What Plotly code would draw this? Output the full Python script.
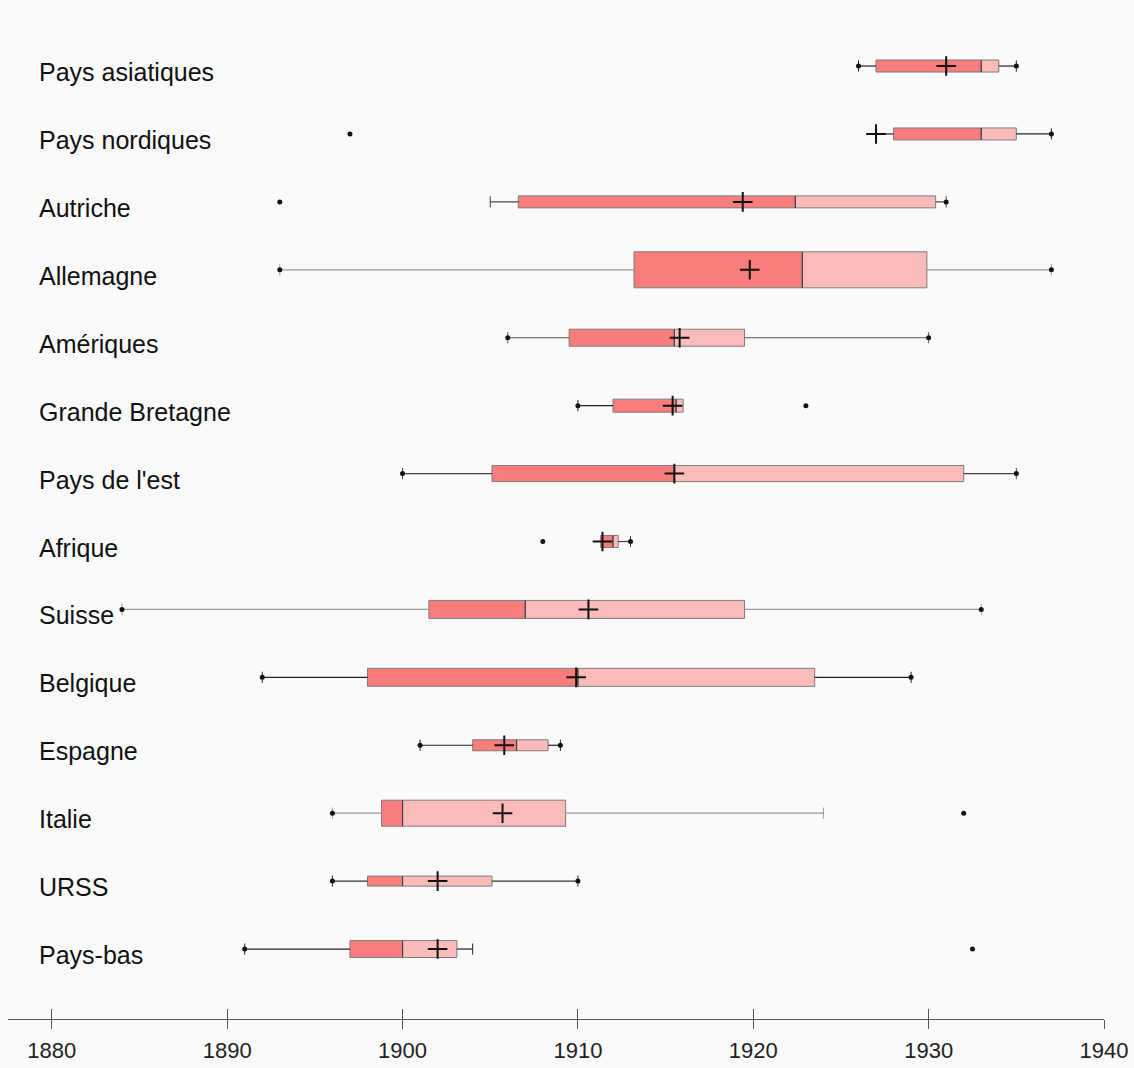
import plotly.graph_objects as go

# ---------------- data ----------------
categories = ["Pays asiatiques", "Pays nordiques", "Autriche", "Allemagne", "Amériques",
              "Grande Bretagne", "Pays de l'est", "Afrique", "Suisse", "Belgique",
              "Espagne", "Italie", "URSS", "Pays-bas"]
q1 = [1927.0, 1928.0, 1906.6, 1913.2, 1909.5, 1912.0, 1905.1, 1911.3, 1901.5, 1898.0, 1904.0, 1898.8, 1898.0, 1897.0]
median = [1933.0, 1933.0, 1922.4, 1922.8, 1915.5, 1915.6, 1915.5, 1912.0, 1907.0, 1910.0, 1906.5, 1900.0, 1900.0, 1900.0]
q3 = [1934.0, 1935.0, 1930.4, 1929.9, 1919.5, 1916.0, 1932.0, 1912.3, 1919.5, 1923.5, 1908.3, 1909.3, 1905.1, 1903.1]
mean = [1931.0, 1927.0, 1919.4, 1919.8, 1915.8, 1915.4, 1915.5, 1911.4, 1910.6, 1909.9, 1905.8, 1905.7, 1902.0, 1902.0]
whisker_low = [1926, 1927, 1905, 1893, 1906, 1910, 1900, 1911.3, 1884, 1892, 1901, 1896, 1896, 1891]
whisker_high = [1935, 1937, 1931, 1937, 1930, 1916.0, 1935, 1913, 1933, 1929, 1909, 1924, 1910, 1904]
outlier_cat = ["Pays nordiques", "Autriche", "Grande Bretagne", "Afrique", "Italie", "Pays-bas"]
outlier_val = [1897, 1893, 1923, 1908, 1932, 1932.5]
tick_years = [1880, 1890, 1900, 1910, 1920, 1930, 1940]

# ---------------- styles ----------------
box_px = [12, 12, 12, 36, 17, 13, 16, 12, 18, 18, 11, 26, 10, 17]
low_dot = [True, False, False, True, True, True, True, False, True, True, True, True, True, True]
high_dot = [True, True, True, True, True, False, True, True, True, True, True, False, True, False]
whisker_color = ["#222", "#222", "#444", "#999", "#555", "#222", "#444", "#444",
                 "#999", "#222", "#222", "#999", "#333", "#222"]
DARK = "#F97D7D"
LIGHT = "#FCBBBB"
BORDER = "#7d7d7d"
PX_PER_ROW = 67.9
LABEL_FONT = "Liberation Sans, Arial, sans-serif"
TICK_FONT = "Liberation Sans, Arial, sans-serif"

pos = list(range(len(categories)))
idx = {c: i for i, c in enumerate(categories)}

fig = go.Figure()

# whiskers
for i in pos:
    col = whisker_color[i]
    if whisker_low[i] < q1[i]:
        fig.add_trace(go.Scatter(x=[whisker_low[i], q1[i]], y=[i, i], mode="lines",
                                 line=dict(color=col, width=1.2), hoverinfo="skip", showlegend=False))
        fig.add_trace(go.Scatter(x=[whisker_low[i]], y=[i], mode="markers",
                                 marker=dict(symbol="line-ns", size=8, line=dict(color=col, width=1)),
                                 hoverinfo="skip", showlegend=False))
    if whisker_high[i] > q3[i]:
        fig.add_trace(go.Scatter(x=[q3[i], whisker_high[i]], y=[i, i], mode="lines",
                                 line=dict(color=col, width=1.2), hoverinfo="skip", showlegend=False))
        fig.add_trace(go.Scatter(x=[whisker_high[i]], y=[i], mode="markers",
                                 marker=dict(symbol="line-ns", size=8, line=dict(color=col, width=1)),
                                 hoverinfo="skip", showlegend=False))

# boxes: Q1 -> median (dark), median -> Q3 (light)
widths = [h / PX_PER_ROW for h in box_px]
fig.add_trace(go.Bar(y=pos, x=[m - a for m, a in zip(median, q1)], base=q1, orientation="h",
                     width=widths, marker=dict(color=DARK, line=dict(color=BORDER, width=1)),
                     hoverinfo="skip", showlegend=False))
fig.add_trace(go.Bar(y=pos, x=[b - m for b, m in zip(q3, median)], base=median, orientation="h",
                     width=widths, marker=dict(color=LIGHT, line=dict(color=BORDER, width=1)),
                     hoverinfo="skip", showlegend=False))
# median lines
for i in pos:
    h = widths[i] / 2
    fig.add_trace(go.Scatter(x=[median[i], median[i]], y=[i - h, i + h], mode="lines",
                             line=dict(color="#444", width=1.2), hoverinfo="skip", showlegend=False))

# end dots (min / max)
dx = [whisker_low[i] for i in pos if low_dot[i]] + [whisker_high[i] for i in pos if high_dot[i]]
dy = [i for i in pos if low_dot[i]] + [i for i in pos if high_dot[i]]
fig.add_trace(go.Scatter(x=dx, y=dy, mode="markers",
                         marker=dict(symbol="circle", size=5, color="#111"),
                         hoverinfo="skip", showlegend=False))
# outliers
fig.add_trace(go.Scatter(x=outlier_val, y=[idx[c] for c in outlier_cat], mode="markers",
                         marker=dict(symbol="circle", size=5, color="#111"),
                         hoverinfo="skip", showlegend=False))
# means
fig.add_trace(go.Scatter(x=mean, y=pos, mode="markers",
                         marker=dict(symbol="cross-thin", size=14, line=dict(color="#111", width=2)),
                         hoverinfo="skip", showlegend=False))

# category labels
for i, c in enumerate(categories):
    fig.add_annotation(x=0.0265, xref="paper", y=i, yref="y", text=c, showarrow=False,
                       xanchor="left", yanchor="middle", yshift=-6,
                       font=dict(family=LABEL_FONT, size=25, color="#111"))

fig.update_layout(
    width=1134, height=1068,
    margin=dict(l=8, r=30, t=10, b=49, autoexpand=False),
    paper_bgcolor="#fafafa", plot_bgcolor="#fafafa",
    barmode="overlay", showlegend=False,
    xaxis=dict(range=[1877.5, 1940], tickvals=tick_years, ticks="outside", ticklen=9,
               tickcolor="#555", tickwidth=1, showline=True, linecolor="#555", linewidth=1,
               showgrid=False, zeroline=False, ticklabelstandoff=3, automargin=False,
               ticklabeloverflow="allow",
               tickfont=dict(family=TICK_FONT, size=22, color="#222")),
    xaxis2=dict(range=[1877.5, 1940], tickvals=tick_years, ticks="inside", ticklen=10,
                tickcolor="#555", tickwidth=1, overlaying="x", anchor="y", side="bottom",
                showticklabels=False, showgrid=False, zeroline=False, showline=False),
    yaxis=dict(range=[14.03, -0.825], showticklabels=False, showgrid=False, zeroline=False,
               showline=False, ticks="", automargin=False),
)
# dummy trace to activate xaxis2
fig.add_trace(go.Scatter(x=[1880], y=[-5], xaxis="x2", mode="markers", marker=dict(opacity=0),
                         hoverinfo="skip", showlegend=False))

fig.write_html("out.html", config={"displayModeBar": False},
               post_script="document.body.style.margin='0';document.body.style.overflow='hidden';")
